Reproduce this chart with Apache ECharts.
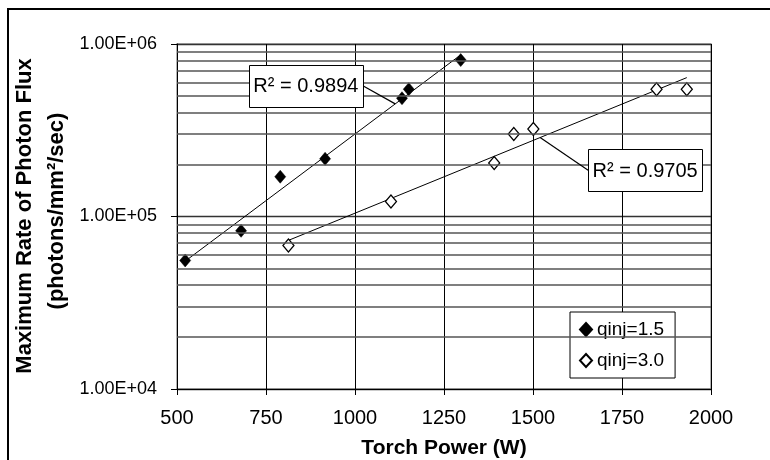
<!DOCTYPE html>
<html><head><meta charset="utf-8">
<script src="https://cdn.jsdelivr.net/npm/echarts@6/dist/echarts.min.js"></script>
<style>html,body{margin:0;padding:0;background:#fff}#c{width:770px;height:460px}</style>
</head><body><div id="c"></div>
<script>
// ---- data ----
const power15 = [523, 680, 790, 916, 1132, 1151, 1297];
const flux15  = [55600, 82600, 170000, 216000, 485000, 547000, 807000];
const power30 = [813, 1101, 1391, 1446, 1501, 1847, 1932];
const flux30  = [67900, 122000, 204000, 301000, 322000, 547000, 547000];
const seriesNames = ['qinj=1.5', 'qinj=3.0'];
const r2Labels = ['R\u00B2 = 0.9894', 'R\u00B2 = 0.9705'];
const xTickLabels = ['500', '750', '1000', '1250', '1500', '1750', '2000'];
const yTickValues = [1e4, 1e5, 1e6];
const yTickLabels = ['1.00E+04', '1.00E+05', '1.00E+06'];
const minorGridValues = [2e4, 3e4, 4e4, 5e4, 6e4, 7e4, 8e4, 9e4, 2e5, 3e5, 4e5, 5e5, 6e5, 7e5, 8e5, 9e5];

const FONT = 'Liberation Sans, Arial, Helvetica, sans-serif';

// exponential trendline (least squares on ln y), as the spreadsheet draws it
function expFit(xs, ys) {
  const n = xs.length;
  const ly = ys.map(v => Math.log(v));
  const mx = xs.reduce((a, b) => a + b, 0) / n;
  const my = ly.reduce((a, b) => a + b, 0) / n;
  let sxy = 0, sxx = 0;
  for (let i = 0; i < n; i++) { sxy += (xs[i] - mx) * (ly[i] - my); sxx += (xs[i] - mx) ** 2; }
  const b = sxy / sxx, a = my - b * mx;
  const f = x => Math.exp(a + b * x);
  const x0 = Math.min(...xs), x1 = Math.max(...xs);
  return { f, pts: [[x0, f(x0)], [x1, f(x1)]] };
}
const fit15 = expFit(power15, flux15);
const fit30 = expFit(power30, flux30);

const chart = echarts.init(document.getElementById('c'), null, { renderer: 'canvas' });

const option = {
  backgroundColor: '#fff',
  animation: false,
  textStyle: { fontFamily: FONT },
  grid: { left: 177, right: 59, top: 44, bottom: 71, show: true, borderColor: '#999', borderWidth: 1.5, backgroundColor: '#fff',
          containLabel: false, outerBoundsMode: 'none' },
  xAxis: {
    type: 'value', min: 500, max: 2000, interval: 250,
    name: 'Torch Power (W)', nameLocation: 'middle', nameGap: 49,
    nameTextStyle: { fontFamily: FONT, fontSize: 21, fontWeight: 'bold', color: '#000' },
    axisLine: { lineStyle: { color: '#000', width: 1 } },
    axisTick: { show: true, inside: false, length: 6, lineStyle: { color: '#000' } },
    axisLabel: { fontFamily: FONT, fontSize: 20, color: '#000', margin: 19,
      formatter: v => { const i = Math.round((v - 500) / 250); return xTickLabels[i] || ''; } },
    splitLine: { show: true, lineStyle: { color: '#000', width: 1 } }
  },
  yAxis: {
    type: 'log', logBase: 10, min: 1e4, max: 1e6, interval: 1,
    axisLine: { show: true, lineStyle: { color: '#000', width: 1 } },
    axisTick: { show: true, inside: false, length: 6, lineStyle: { color: '#000' } },
    axisLabel: {
      fontFamily: FONT, fontSize: 18, color: '#000', margin: 20,
      formatter: v => { const i = yTickValues.findIndex(t => Math.abs(Math.log10(t) - Math.log10(v)) < 1e-6); return i >= 0 ? yTickLabels[i] : ''; }
    },
    splitLine: { show: true, lineStyle: { color: '#333', width: 1.3 } }
  },
  legend: {
    orient: 'vertical', left: 570, top: 312,
    data: seriesNames,
    backgroundColor: '#fff', borderColor: '#000', borderWidth: 1,
    padding: [8, 11, 8, 9], itemGap: 12, itemWidth: 12, itemHeight: 13,
    textStyle: { fontFamily: FONT, fontSize: 19, color: '#000' },
    selectedMode: false
  },
  series: [
    {
      name: 'minorGrid', type: 'line', data: [], z: 1, silent: true,
      markLine: {
        silent: true, symbol: ['none', 'none'], animation: false,
        label: { show: false },
        lineStyle: { color: '#555', width: 1.5, type: 'solid' },
        data: minorGridValues.map(v => ({ yAxis: v }))
      }
    },
    {
      name: 'trend15', type: 'line', data: fit15.pts, showSymbol: false, symbol: 'none', silent: true, z: 3,
      lineStyle: { color: '#000', width: 1 }
    },
    {
      name: 'trend30', type: 'line', data: fit30.pts, showSymbol: false, symbol: 'none', silent: true, z: 3,
      lineStyle: { color: '#000', width: 1 }
    },
    {
      name: seriesNames[0], type: 'scatter', symbol: 'diamond', symbolSize: [11, 13], z: 4,
      itemStyle: { color: '#000', borderColor: '#000', borderWidth: 0.5, opacity: 1 },
      data: power15.map((x, i) => [x, flux15[i]])
    },
    {
      name: seriesNames[1], type: 'scatter', symbol: 'diamond', symbolSize: [11, 13], z: 4,
      itemStyle: { color: '#fff', borderColor: '#000', borderWidth: 1.3, opacity: 1 },
      data: power30.map((x, i) => [x, flux30[i]])
    }
  ]
};
chart.setOption(option);

// ---- annotations (anchored in data coordinates) ----
const annotations = [
  { text: r2Labels[0], box: [862, 572000], lineX: 1113, fit: fit15, side: 'right' },
  { text: r2Labels[1], box: [1815, 185700], lineX: 1520, fit: fit30, side: 'left' }
];
const BOX_W = 114, BOX_H = 42;
const graphics = [];
annotations.forEach(a => {
  const c = chart.convertToPixel({ gridIndex: 0 }, a.box);
  const p = chart.convertToPixel({ gridIndex: 0 }, [a.lineX, a.fit.f(a.lineX)]);
  const ex = a.side === 'right' ? c[0] + BOX_W / 2 : c[0] - BOX_W / 2;
  graphics.push({ type: 'line', z: 50, shape: { x1: ex, y1: c[1], x2: p[0], y2: p[1] }, style: { stroke: '#000', lineWidth: 1.2 } });
  graphics.push({ type: 'rect', z: 51, shape: { x: Math.round(c[0] - BOX_W / 2) + 0.5, y: Math.round(c[1] - BOX_H / 2) + 0.5, width: BOX_W, height: BOX_H },
    style: { fill: '#fff', stroke: '#000', lineWidth: 1 } });
  graphics.push({ type: 'text', z: 52, x: c[0], y: c[1] + 1,
    style: { text: a.text, font: '20px ' + FONT, fill: '#000', align: 'center', verticalAlign: 'middle' } });
});
// y-axis title (two lines)
graphics.push({ type: 'text', z: 52, x: 25, y: 216, rotation: Math.PI / 2,
  style: { text: 'Maximum Rate of Photon Flux', font: 'bold 22px ' + FONT, fill: '#000', align: 'center', verticalAlign: 'middle' } });
graphics.push({ type: 'text', z: 52, x: 57, y: 211, rotation: Math.PI / 2,
  style: { text: '(photons/mm\u00B2/sec)', font: 'bold 22px ' + FONT, fill: '#000', align: 'center', verticalAlign: 'middle' } });
// outer frame
graphics.push({ type: 'rect', z: 60, shape: { x: 8, y: 9, width: 800, height: 500 }, style: { fill: 'none', stroke: '#000', lineWidth: 2 } });

chart.setOption({ graphic: graphics });
</script>
</body></html>
